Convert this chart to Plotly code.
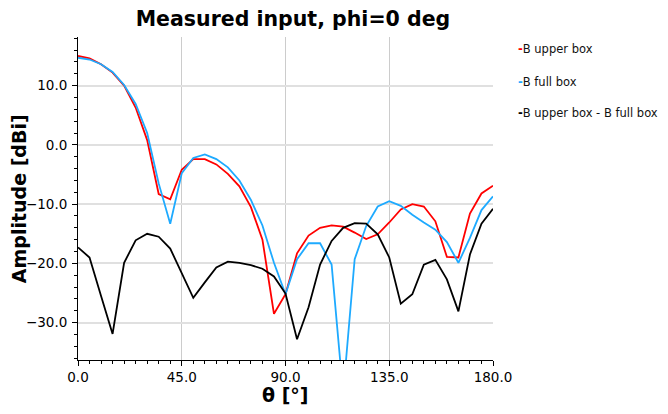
import plotly.graph_objects as go

theta = list(range(0, 181, 5))

b_upper = [15.0, 14.6, 13.6, 12.2, 10.0, 6.3, 0.8, -8.3, -9.2, -4.2,
           -2.4, -2.4, -3.3, -4.9, -7.0, -10.5, -16.0, -28.5, -25.2, -18.3,
           -15.3, -14.0, -13.6, -13.8, -14.8, -15.9, -15.1, -13.1, -10.9, -10.0,
           -10.4, -12.9, -18.9, -19.0, -11.6, -8.2, -6.9]

b_full = [14.7, 14.4, 13.6, 12.3, 10.1, 6.9, 2.0, -6.5, -13.3, -4.8,
          -2.2, -1.6, -2.4, -3.8, -6.0, -9.3, -13.6, -19.9, -25.2, -19.3,
          -16.6, -16.6, -20.2, -42.0, -19.3, -13.7, -10.4, -9.5, -10.3, -11.8,
          -13.1, -14.3, -16.4, -19.9, -15.7, -11.0, -8.7]

b_diff = [-17.3, -19.0, -25.5, -31.9, -19.9, -16.1, -15.0, -15.5, -17.5, -21.7,
          -25.8, -23.2, -20.7, -19.7, -19.9, -20.3, -20.9, -22.2, -25.1, -32.8,
          -27.4, -20.2, -16.2, -14.0, -13.2, -13.3, -15.1, -19.0, -26.8, -25.2,
          -20.2, -19.4, -22.7, -28.1, -18.5, -13.3, -10.8]

names = ["B upper box", "B full box", "B upper box - B full box"]
colors = ["#ff0000", "#1eaaff", "#000000"]
series = [b_upper, b_full, b_diff]

fig = go.Figure()
for name, col, vals in zip(names, colors, series):
    fig.add_trace(go.Scatter(x=theta, y=vals, mode="lines", name=name,
                             line=dict(color=col, width=1.8), showlegend=False))

# legend-like entries
leg_y = [0.962, 0.862, 0.765]
for name, col, yy in zip(names, colors, leg_y):
    fig.add_annotation(xref="paper", yref="paper", x=1.056, y=yy,
                       xanchor="left", yanchor="middle", showarrow=False,
                       text=f"<span style='color:{col}'><b>-</b></span>{name}",
                       font=dict(family="DejaVu Sans", size=11.5, color="#111"))

# axis titles
fig.add_annotation(xref="paper", yref="paper", x=-0.143, y=0.5,
                   xanchor="center", yanchor="middle", showarrow=False,
                   textangle=-90, text="<b>Amplitude [dBi]</b>",
                   font=dict(family="DejaVu Sans", size=19, color="black"))
fig.add_annotation(xref="paper", yref="paper", x=0.5, y=-0.108,
                   xanchor="center", yanchor="middle", showarrow=False,
                   text="<b>θ [°]</b>",
                   font=dict(family="DejaVu Sans", size=19, color="black"))

fig.update_layout(
    width=668, height=414,
    margin=dict(l=78, r=175, t=37, b=54),
    paper_bgcolor="white", plot_bgcolor="white",
    title=dict(text="<b>Measured input, phi=0 deg</b>", x=0.518, xref="paper",
               xanchor="center",
               y=0.955, yref="container", yanchor="middle",
               font=dict(family="DejaVu Sans", size=20.5, color="black")),
    font=dict(family="DejaVu Sans", size=13.5, color="black"),
)
fig.update_xaxes(
    range=[0, 180], tickmode="linear", tick0=0, dtick=45, tickformat=".1f",
    showgrid=True, gridcolor="#cccccc", gridwidth=1,
    showline=True, linecolor="black", linewidth=1,
    ticks="outside", ticklen=5, tickcolor="black",
    minor=dict(dtick=5, ticks="outside", ticklen=3, tickcolor="black", showgrid=False),
    zeroline=False, automargin=False,
)
fig.update_yaxes(
    range=[-36.3, 18.2], tickmode="linear", tick0=0, dtick=10, tickformat=".1f",
    showgrid=True, gridcolor="#e0e0e0", gridwidth=2,
    showline=True, linecolor="black", linewidth=1,
    ticks="outside", ticklen=5, tickcolor="black", ticklabelstandoff=2,
    minor=dict(dtick=2, ticks="outside", ticklen=3, tickcolor="black", showgrid=False),
    zeroline=False, automargin=False,
)

fig.write_html("out.html", config={"displayModeBar": False},
               post_script="document.body.style.margin='0';document.body.style.overflow='hidden';")
